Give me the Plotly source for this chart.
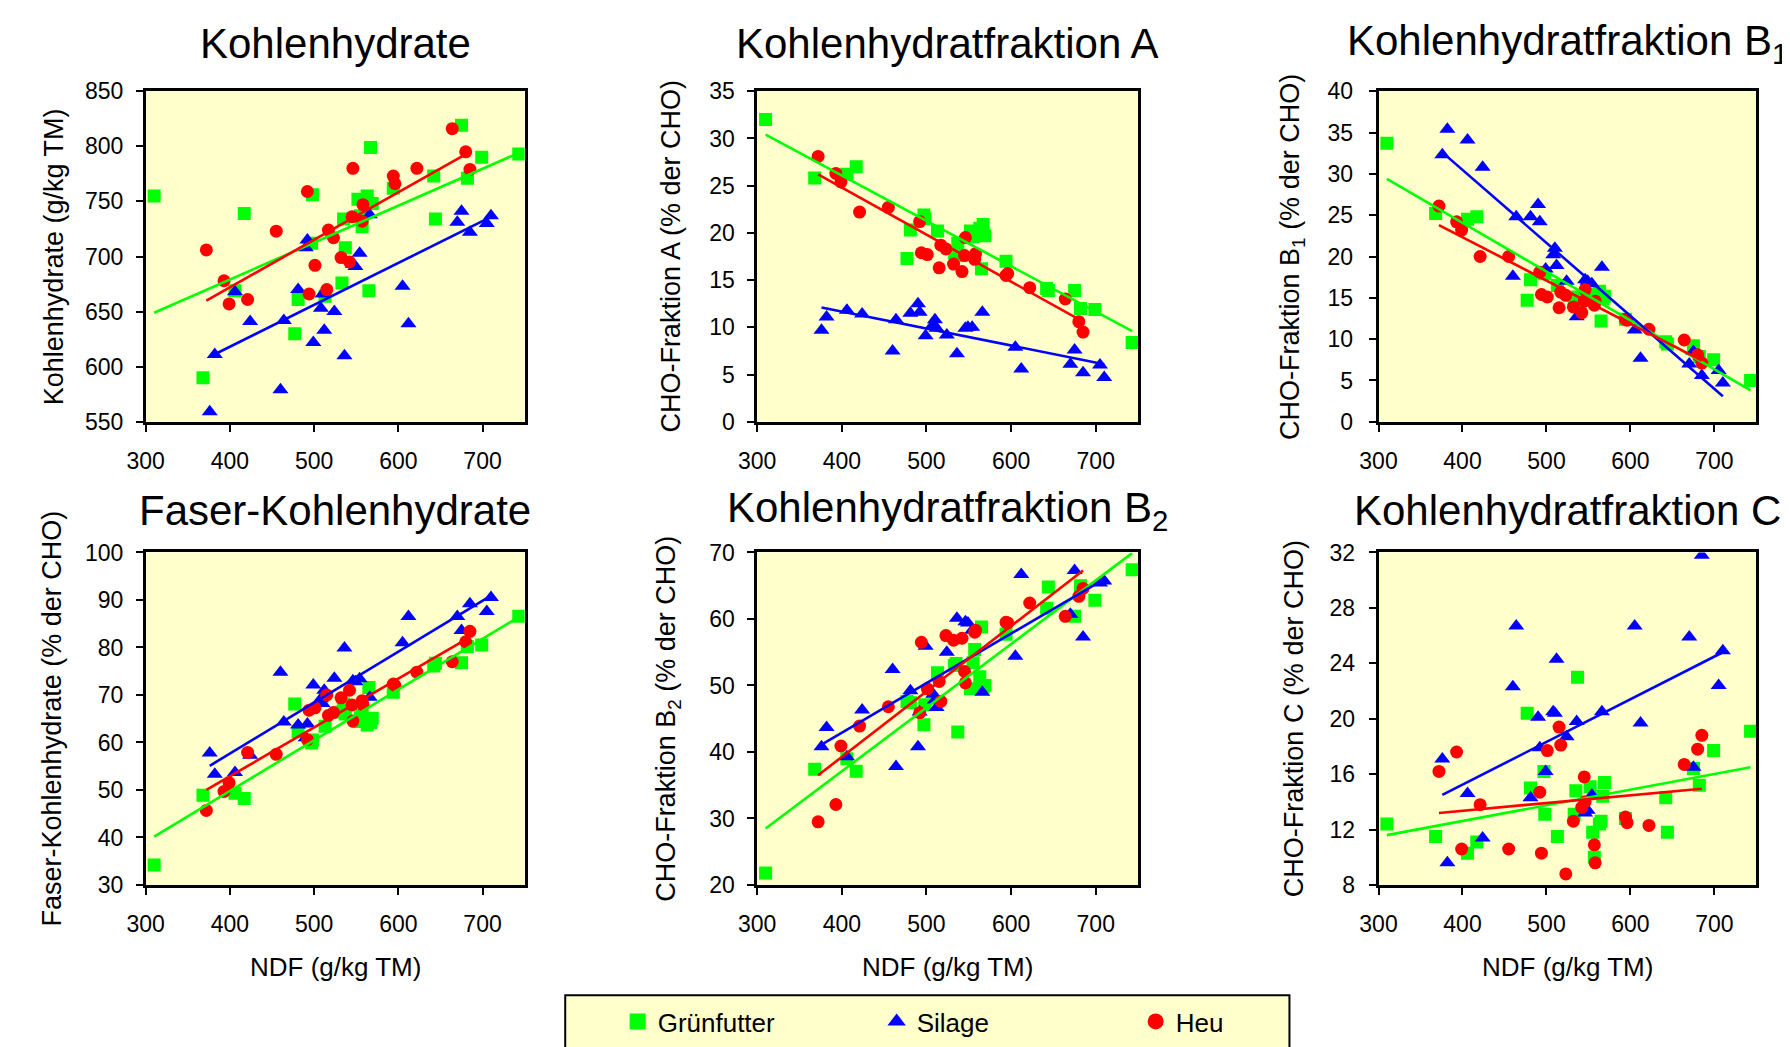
import plotly.graph_objects as go
from plotly.subplots import make_subplots

# NDF (g/kg TM) per sample group
ndf_gruen = [310, 368, 406, 417, 477, 481, 497, 498, 513, 533, 535, 537, 552, 555, 557, 563, 565, 567, 569, 594, 642, 644, 675, 682, 699, 743]
ndf_silage = [376, 382, 406, 424, 460, 464, 481, 490, 492, 499, 508, 510, 512, 524, 536, 546, 549, 554, 566, 605, 612, 670, 675, 685, 705, 710]
ndf_heu = [372, 393, 399, 421, 455, 492, 494, 501, 515, 517, 523, 532, 542, 545, 546, 557, 558, 594, 596, 622, 664, 680, 685]

# Kohlenhydrate (g/kg TM)
kh_gruen = [755, 590, 669, 739, 630, 661, 712, 756, 664, 676, 734, 708, 752, 737, 727, 755, 669, 799, 748, 762, 773, 734, 819, 771, 790, 793]
kh_silage = [559, 611, 668, 641, 579, 642, 670, 708, 715, 622, 653, 666, 633, 650, 610, 693, 691, 703, 738, 673, 639, 731, 741, 722, 730, 737]
kh_heu = [706, 678, 657, 661, 723, 759, 666, 692, 670, 724, 717, 699, 695, 736, 780, 732, 747, 773, 766, 780, 816, 795, 779]

# Fraktion A (% der CHO)
a_gruen = [32.0, 25.8, 26.2, 27.0, 17.3, 20.3, 21.9, 21.5, 20.2, 17.9, 17.6, 18.9, 20.2, 19.6, 20.0, 20.5, 16.2, 20.9, 19.7, 17.0, 14.1, 13.9, 13.9, 12.0, 11.9, 8.4]
a_silage = [9.7, 11.1, 11.8, 11.4, 7.5, 10.8, 11.5, 12.5, 11.6, 9.1, 10.3, 10.8, 9.9, 9.2, 7.2, 9.9, 10.0, 10.0, 11.6, 7.9, 5.6, 6.1, 7.6, 5.2, 6.0, 4.7]
a_heu = [28.1, 26.3, 25.4, 22.2, 22.7, 21.2, 17.9, 17.7, 16.3, 18.7, 18.3, 16.7, 15.9, 17.6, 19.5, 17.2, 17.8, 15.5, 15.7, 14.2, 13.0, 10.6, 9.5]

# Fraktion B1
b1_gruen = [33.7, 25.2, 24.5, 24.8, 14.7, 17.2, 18.0, 17.9, 16.5, 14.9, 14.4, 15.1, 15.4, 15.2, 14.9, 15.8, 12.2, 14.9, 15.2, 12.4, 9.7, 9.4, 9.2, 7.9, 7.5, 5.0]
b1_silage = [32.3, 35.4, 34.1, 30.8, 17.6, 24.8, 24.8, 26.3, 24.2, 18.5, 20.2, 21.0, 18.9, 17.0, 12.7, 17.2, 17.0, 16.7, 18.7, 11.1, 7.7, 7.0, 8.5, 5.6, 6.2, 4.7]
b1_heu = [26.1, 24.2, 23.2, 20.0, 20.0, 18.1, 15.4, 15.1, 13.8, 15.7, 15.3, 13.9, 13.2, 14.6, 16.0, 14.1, 14.6, 12.4, 12.3, 11.2, 9.9, 8.1, 7.1]

# Faser-Kohlenhydrate
faser_gruen = [34.2, 48.9, 49.3, 48.2, 68.1, 62.3, 59.9, 60.5, 63.4, 66.4, 68.1, 66.0, 64.4, 65.2, 65.7, 63.7, 71.6, 64.2, 65.1, 70.6, 76.1, 76.7, 76.8, 80.2, 80.5, 86.6]
faser_silage = [57.8, 53.3, 53.7, 57.3, 74.8, 64.3, 63.7, 61.0, 63.9, 72.1, 69.2, 68.2, 71.0, 73.5, 79.9, 73.0, 72.8, 73.4, 69.5, 81.0, 86.5, 86.5, 83.6, 89.2, 87.6, 90.5]
faser_heu = [45.7, 49.7, 51.5, 57.9, 57.5, 60.6, 66.8, 67.3, 70.0, 65.7, 66.3, 69.4, 71.0, 67.9, 64.5, 68.8, 67.9, 72.3, 72.0, 74.8, 77.0, 81.2, 83.4]

# Fraktion B2
b2_gruen = [21.8, 37.4, 39.0, 37.1, 47.6, 47.4, 44.1, 47.1, 51.9, 53.0, 53.3, 43.0, 49.5, 53.4, 55.4, 51.3, 58.8, 49.8, 50.0, 57.7, 61.6, 64.8, 60.4, 65.0, 62.8, 67.4]
b2_silage = [40.8, 43.7, 39.3, 46.3, 52.4, 37.8, 49.2, 40.8, 46.0, 55.9, 48.7, 47.8, 46.7, 55.0, 60.1, 59.6, 59.4, 58.3, 49.0, 54.4, 66.7, 60.7, 67.3, 57.3, 65.4, 65.7]
b2_heu = [29.5, 32.1, 40.9, 43.9, 46.8, 45.9, 56.5, 49.5, 50.6, 47.6, 57.5, 56.8, 57.1, 52.1, 50.4, 58.0, 58.3, 59.5, 59.4, 62.4, 60.4, 63.4, 64.6]

# Fraktion C
c_gruen = [12.4, 11.5, 10.3, 11.1, 20.4, 15.0, 16.2, 13.1, 11.5, 13.1, 14.8, 23.0, 15.1, 11.8, 10.0, 12.4, 12.6, 14.4, 15.4, 12.8, 14.3, 11.8, 16.4, 15.2, 17.7, 19.1]
c_silage = [17.1, 9.6, 14.6, 11.4, 22.3, 26.7, 14.3, 20.1, 17.9, 16.2, 20.5, 20.4, 24.3, 18.7, 19.8, 13.2, 13.4, 14.5, 20.5, 26.7, 19.7, 25.9, 16.5, 31.8, 22.4, 24.9]
c_heu = [16.2, 17.6, 10.6, 13.8, 10.6, 14.7, 10.3, 17.7, 19.4, 18.1, 8.8, 12.6, 13.6, 15.8, 14.0, 10.9, 9.6, 12.9, 12.5, 12.3, 16.7, 17.8, 18.8]

# regression lines, end points
fit_x_gruen = [310, 743]
fit_x_silage = [376, 710]
fit_x_heu = [372, 685]
fit_kh = {"gruen": [649, 794], "silage": [609, 736], "heu": [660, 795]}
fit_a = {"gruen": [30.4, 9.6], "silage": [12.1, 6.1], "heu": [26.2, 10.6]}
fit_b1 = {"gruen": [29.4, 3.8], "silage": [32.6, 3.1], "heu": [23.8, 7.4]}
fit_faser = {"gruen": [40.2, 86.4], "silage": [55.1, 90.9], "heu": [50.0, 82.2]}
fit_b2 = {"gruen": [28.5, 69.9], "silage": [41.1, 66.0], "heu": [36.5, 67.3]}
fit_c = {"gruen": [11.6, 16.5], "silage": [14.5, 24.8], "heu": [13.2, 14.95]}

titles = ["Kohlenhydrate", "Kohlenhydratfraktion A", "Kohlenhydratfraktion B<sub>1</sub>",
          "Faser-Kohlenhydrate", "Kohlenhydratfraktion B<sub>2</sub>", "Kohlenhydratfraktion C"]
ytitles = ["Kohlenhydrate (g/kg TM)", "CHO-Fraktion A (% der CHO)", "CHO-Fraktion B<sub>1</sub> (% der CHO)",
           "Faser-Kohlenhydrate (% der CHO)", "CHO-Fraktion B<sub>2</sub> (% der CHO)", "CHO-Fraktion C (% der CHO)"]
yranges = [[550, 850], [0, 35], [0, 40], [30, 100], [20, 70], [8, 32]]
ydticks = [50, 5, 5, 10, 10, 4]

panels = [
    (kh_gruen, kh_silage, kh_heu, fit_kh),
    (a_gruen, a_silage, a_heu, fit_a),
    (b1_gruen, b1_silage, b1_heu, fit_b1),
    (faser_gruen, faser_silage, faser_heu, fit_faser),
    (b2_gruen, b2_silage, b2_heu, fit_b2),
    (c_gruen, c_silage, c_heu, fit_c),
]

W, H = 1790, 1047
FONT = "Liberation Sans, Arial, sans-serif"
GREEN, BLUE, RED = "#00FF00", "#0000FF", "#FF0000"

# plot areas in pixels (left, right) and (top, bottom)
cols_px = [(120, 503), (738, 1123), (1366, 1748)]
rows_px = [(72, 411), (545, 886)]
title_y = [23, 502]
ytitle_x = [27, 650, 1278, 25, 648, 1280]
ystandoff = [8, 8, 11, 8, 8, 9]

fig = make_subplots(rows=2, cols=3)

for i, (yg, ys, yh, fit) in enumerate(panels):
    r, c = i // 3 + 1, i % 3 + 1
    fig.add_trace(go.Scatter(x=ndf_gruen, y=yg, mode="markers", name="Grünfutter", showlegend=False,
                             marker=dict(symbol="square", size=13, color=GREEN)), row=r, col=c)
    fig.add_trace(go.Scatter(x=ndf_silage, y=ys, mode="markers", name="Silage", showlegend=False,
                             marker=dict(symbol="triangle-up", size=14, color=BLUE)), row=r, col=c)
    fig.add_trace(go.Scatter(x=ndf_heu, y=yh, mode="markers", name="Heu", showlegend=False,
                             marker=dict(symbol="circle", size=13, color=RED)), row=r, col=c)
    for fx, key, col in [(fit_x_gruen, "gruen", GREEN), (fit_x_silage, "silage", BLUE), (fit_x_heu, "heu", RED)]:
        fig.add_trace(go.Scatter(x=fx, y=fit[key], mode="lines", showlegend=False, hoverinfo="skip",
                                 line=dict(color=col, width=2.6)), row=r, col=c)

    l, rr = cols_px[c - 1]
    t, b = rows_px[r - 1]
    fig.update_xaxes(domain=[l / W, rr / W], range=[300, 750], tickvals=[300, 400, 500, 600, 700],
                     row=r, col=c)
    fig.update_yaxes(domain=[1 - b / H, 1 - t / H], range=yranges[i], dtick=ydticks[i], tick0=0,
                     ticklabelstandoff=ystandoff[i], row=r, col=c)

    # panel title
    fig.add_annotation(text=titles[i], x=(l + rr) / 2 / W, y=1 - title_y[r - 1] / H,
                       xref="paper", yref="paper", showarrow=False, xanchor="center", yanchor="middle",
                       font=dict(size=42, color="black"))
    # y axis title
    fig.add_annotation(text=ytitles[i], x=ytitle_x[i] / W, y=1 - (t + b) / 2 / H, textangle=-90,
                       xref="paper", yref="paper", showarrow=False, xanchor="center", yanchor="middle",
                       font=dict(size=27, color="black"))
    if r == 2:
        fig.add_annotation(text="NDF (g/kg TM)", x=(l + rr) / 2 / W, y=1 - 970 / H,
                           xref="paper", yref="paper", showarrow=False, xanchor="center", yanchor="middle",
                           font=dict(size=26, color="black"))

# legend entries (bigger symbols than the points, as in the original key)
for name, sym, col in [("Grünfutter", "square", GREEN), ("Silage", "triangle-up", BLUE), ("Heu", "circle", RED)]:
    fig.add_trace(go.Scatter(x=[None], y=[None], mode="markers", name=name,
                             marker=dict(symbol=sym, size=16, color=col)), row=1, col=1)

fig.update_xaxes(showline=True, mirror=True, linecolor="black", linewidth=2.5, showgrid=False, zeroline=False,
                 ticks="outside", ticklen=7, tickwidth=1.5, tickcolor="black", ticklabelstandoff=10,
                 tickfont=dict(size=23, color="black"))
fig.update_yaxes(showline=True, mirror=True, linecolor="black", linewidth=2.5, showgrid=False, zeroline=False,
                 ticks="outside", ticklen=7, tickwidth=1.5, tickcolor="black",
                 tickfont=dict(size=23, color="black"))

# legend frame
fig.add_shape(type="rect", xref="paper", yref="paper", x0=544 / W, x1=1276 / W, y0=1 - 1070 / H, y1=1 - 999 / H,
              fillcolor="#FFFFCC", line=dict(color="black", width=2), layer="below")

fig.update_layout(
    width=W, height=H,
    margin=dict(l=0, r=0, t=0, b=0),
    paper_bgcolor="white",
    plot_bgcolor="#FFFFCC",
    font=dict(family=FONT, color="black"),
    showlegend=True,
    legend=dict(orientation="h", x=597 / W, xanchor="left", y=1 - 1026 / H, yanchor="middle",
                bgcolor="rgba(0,0,0,0)", font=dict(size=26), entrywidth=214, entrywidthmode="pixels",
                itemsizing="trace"),
)

fig.write_html("out.html")
